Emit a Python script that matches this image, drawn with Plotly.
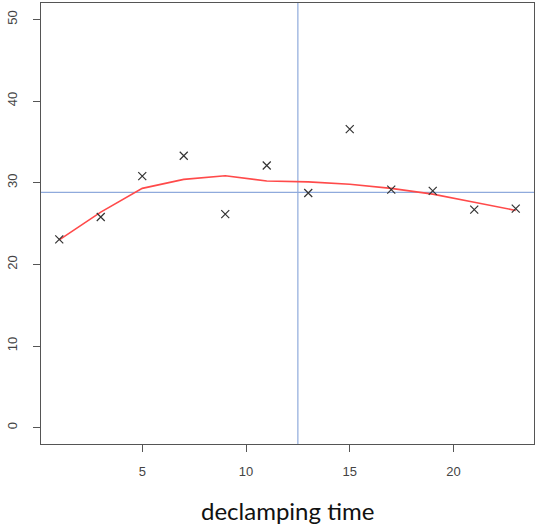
import plotly.graph_objects as go

# Data
x_time = [1, 3, 5, 7, 9, 11, 13, 15, 17, 19, 21, 23]
y_obs = [23.05, 25.8, 30.8, 33.3, 26.15, 32.1, 28.74, 36.55, 29.15, 29.0, 26.7, 26.83]
y_smooth = [23.0, 26.4, 29.3, 30.4, 30.85, 30.2, 30.1, 29.8, 29.3, 28.6, 27.6, 26.6]
v_ref = 12.5
h_ref = 28.8
x_ticks = [5, 10, 15, 20]
y_ticks = [0, 10, 20, 30, 40, 50]
x_label = "declamping time"

fig = go.Figure()

fig.add_trace(go.Scatter(
    x=x_time, y=y_smooth, mode="lines",
    line=dict(color="#FF4A4A", width=1.6),
    hoverinfo="skip", showlegend=False,
))
fig.add_trace(go.Scatter(
    x=x_time, y=y_obs, mode="markers",
    marker=dict(symbol="x-thin-open", size=8, color="#333333",
                line=dict(color="#333333", width=1.2)),
    showlegend=False,
))

fig.add_vline(x=v_ref, line=dict(color="#8FAADC", width=1.2), layer="below")
fig.add_hline(y=h_ref, line=dict(color="#8FAADC", width=1.2), layer="below")

axis_common = dict(
    showgrid=False, zeroline=False, showline=True, mirror=True,
    linecolor="#555555", linewidth=1.2, automargin=False,
    ticks="outside", ticklen=7, tickwidth=1, tickcolor="#555555",
    tickfont=dict(family="Liberation Sans, Arial, sans-serif", size=13, color="#444444"),
)

fig.update_xaxes(range=[0.12, 23.88], tickmode="array", tickvals=x_ticks,
                 ticklabelstandoff=8, **axis_common)
fig.update_yaxes(range=[-2, 52], tickmode="array", tickvals=y_ticks,
                 tickangle=-90, ticklabelstandoff=11, **axis_common)

fig.add_annotation(
    text=x_label, xref="paper", yref="paper", x=0.5, y=-0.15,
    xanchor="center", yanchor="middle", showarrow=False,
    font=dict(family="Lato, Open Sans, sans-serif", size=24, color="#111111"),
)

fig.update_layout(
    width=537, height=526,
    margin=dict(l=41, r=3, t=3, b=82),
    plot_bgcolor="white", paper_bgcolor="white",
)

fig.write_html(
    "out.html",
    config={"displayModeBar": False},
    post_script="document.body.style.margin='0';document.body.style.padding='0';",
)
